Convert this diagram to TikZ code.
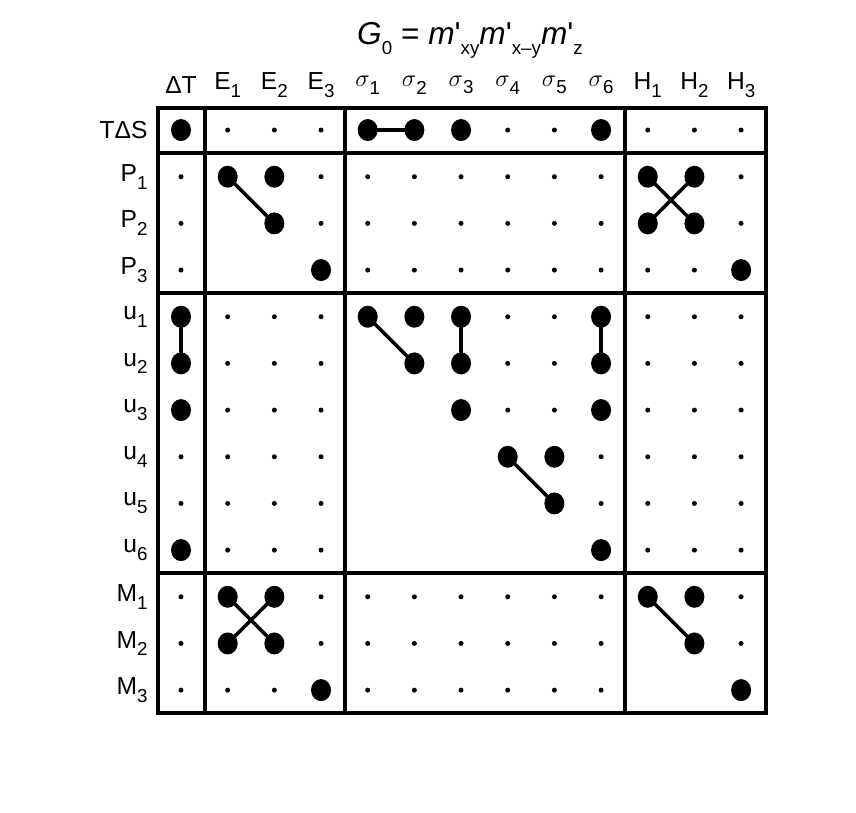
\documentclass[tikz,border=0pt]{standalone}
\usepackage{fontspec}
\setmainfont{Liberation Sans}
\usetikzlibrary{calc}
\newcommand{\sub}[1]{\raisebox{-0.6ex}{\fontsize{16}{16}\selectfont #1}}
\newcommand{\pr}{\textquotesingle}
\tikzset{
  bigdot/.style={circle,fill,inner sep=0pt,minimum size=0.6cm,yscale=1.1},
  smalldot/.style={circle,fill,inner sep=0pt,minimum size=0.15cm},
  link/.style={line width=3pt},
  frame/.style={line width=3pt},
  lbl/.style={font=\fontsize{21}{21}\selectfont}
}
\begin{document}
\begin{tikzpicture}[x=1.4cm,y=-1.4cm]
\useasboundingbox (0,0) rectangle (18.34,17.40);

\node[font=\fontsize{27}{27}\selectfont] (title) at (10.07,0.86) {\textit{G}\sub{0} = \textit{m}\pr\sub{xy}\textit{m}\pr\sub{x\textendash y}\textit{m}\pr\sub{z}};

% column headers
\foreach \t [count=\c] in {ΔT,E\sub{1},E\sub{2},E\sub{3},$\sigma$\sub{1},$\sigma$\sub{2},$\sigma$\sub{3},$\sigma$\sub{4},$\sigma$\sub{5},$\sigma$\sub{6},H\sub{1},H\sub{2},H\sub{3}}
  \node[lbl] (col-\c) at ({3.878+\c-1},1.82) {\t};
% row labels
\foreach \t [count=\r] in {TΔS,P\sub{1},P\sub{2},P\sub{3},u\sub{1},u\sub{2},u\sub{3},u\sub{4},u\sub{5},u\sub{6},M\sub{1},M\sub{2},M\sub{3}}
  \node[lbl,anchor=east] (row-\r) at (3.25,{2.786+\r-1}) {\t};

% small dots, empty below the diagonal of the diagonal blocks
\foreach \c in {1,...,13}
  \foreach \r in {1,...,13}{
    \pgfmathtruncatemacro{\blank}{and(\c<\r,or(and(\c>1,\r<5),or(and(\c>4,and(\c<11,and(\r>4,\r<11))),and(\c>10,\r>10))))}
    \ifnum\blank=0
      \node[smalldot] (s-\c-\r) at ({3.878+\c-1},{2.786+\r-1}) {};
    \fi
  }

% big dots
\foreach \c/\r in {1/1,5/1,6/1,7/1,10/1,2/2,3/2,11/2,12/2,3/3,11/3,12/3,4/4,13/4,
  1/5,5/5,6/5,7/5,10/5,1/6,6/6,7/6,10/6,1/7,7/7,10/7,8/8,9/8,9/9,1/10,10/10,
  2/11,3/11,11/11,12/11,2/12,3/12,12/12,4/13,13/13}
  \node[bigdot] (n-\c-\r) at ({3.878+\c-1},{2.786+\r-1}) {};

% links
\foreach \a/\b in {5-1/6-1,2-2/3-3,11-2/12-3,12-2/11-3,1-5/1-6,5-5/6-6,7-5/7-6,10-5/10-6,
  8-8/9-9,2-11/3-12,3-11/2-12,11-11/12-12}
  \draw[link] (n-\a.center) -- (n-\b.center);

% frame
\draw[frame] (3.386,2.314) rectangle (16.413,15.278);
\foreach \x in {4.393,7.392,13.392}
  \draw[frame] (\x,2.314) -- (\x,15.278);
\foreach \y in {3.278,6.278,12.278}
  \draw[frame] (3.386,\y) -- (16.413,\y);

\end{tikzpicture}
\end{document}
